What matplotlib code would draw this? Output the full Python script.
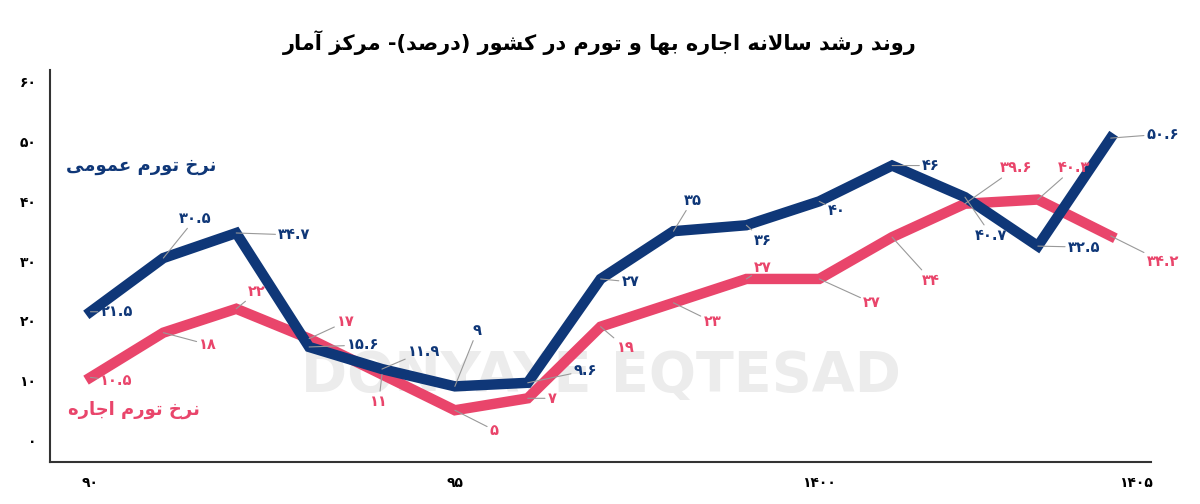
import matplotlib.pyplot as plt

years = list(range(1390, 1405))
general = [21.5, 30.5, 34.7, 15.6, 11.9, 9, 9.6, 27, 35, 36, 40, 46, 40.7, 32.5, 50.6]
rent = [10.5, 18, 22, 17, 11, 5, 7, 19, 23, 27, 27, 34, 39.6, 40.3, 34.2]
xticks = [1390, 1395, 1400, 1405]
xtick_labels = ["90", "95", "1400", "1405"]
yticks = [0, 10, 20, 30, 40, 50, 60]

title = "روند رشد سالانه اجاره بها و تورم در کشور (درصد)- مرکز آمار"
label_general = "نرخ تورم عمومی"
label_rent = "نرخ تورم اجاره"

# label offsets in pixels (dx, dy)
off_general = [(10, 0), (16, 40), (42, -2), (38, 2), (26, 18), (18, 56), (46, 12), (21, -3),
               (10, 31), (8, -15), (9, -9), (30, 0), (10, -38), (30, -1), (36, 4)]
off_rent = [(10, -3), (36, -12), (12, 17), (28, 17), (-12, -27), (35, -20), (20, 0), (16, -21),
            (30, -19), (8, 11), (44, -24), (30, -43), (35, 36), (20, 32), (36, -26)]

FORMS = {
    "ا": ("\uFE8D", "\uFE8E", None, None), "آ": ("\uFE81", "\uFE82", None, None),
    "ب": ("\uFE8F", "\uFE90", "\uFE91", "\uFE92"), "ت": ("\uFE95", "\uFE96", "\uFE97", "\uFE98"),
    "ج": ("\uFE9D", "\uFE9E", "\uFE9F", "\uFEA0"), "خ": ("\uFEA5", "\uFEA6", "\uFEA7", "\uFEA8"),
    "د": ("\uFEA9", "\uFEAA", None, None), "ر": ("\uFEAD", "\uFEAE", None, None),
    "ز": ("\uFEAF", "\uFEB0", None, None), "س": ("\uFEB1", "\uFEB2", "\uFEB3", "\uFEB4"),
    "ش": ("\uFEB5", "\uFEB6", "\uFEB7", "\uFEB8"), "ص": ("\uFEB9", "\uFEBA", "\uFEBB", "\uFEBC"),
    "ع": ("\uFEC9", "\uFECA", "\uFECB", "\uFECC"), "ک": ("\uFB8E", "\uFB8F", "\uFB90", "\uFB91"),
    "ل": ("\uFEDD", "\uFEDE", "\uFEDF", "\uFEE0"), "م": ("\uFEE1", "\uFEE2", "\uFEE3", "\uFEE4"),
    "ن": ("\uFEE5", "\uFEE6", "\uFEE7", "\uFEE8"), "ه": ("\uFEE9", "\uFEEA", "\uFEEB", "\uFEEC"),
    "و": ("\uFEED", "\uFEEE", None, None), "ی": ("\uFBFC", "\uFBFD", "\uFBFE", "\uFBFF"),
}


def shape(text):
    # minimal Persian shaping + visual reordering for matplotlib
    text = text.replace("لا", "\x01")
    chars = list(text)
    out = []
    for i, c in enumerate(chars):
        if c == "\x01":
            prev = chars[i - 1] if i > 0 else ""
            joins = prev in FORMS and FORMS[prev][2] is not None
            out.append("\uFEFC" if joins else "\uFEFB")
            continue
        if c not in FORMS:
            out.append(c)
            continue
        prev = chars[i - 1] if i > 0 else ""
        nxt = chars[i + 1] if i + 1 < len(chars) else ""
        jp = prev in FORMS and FORMS[prev][2] is not None
        jn = (nxt in FORMS or nxt == "\x01") and FORMS[c][2] is not None
        iso, fin, ini, med = FORMS[c]
        if jp and jn:
            out.append(med)
        elif jp:
            out.append(fin)
        elif jn:
            out.append(ini)
        else:
            out.append(iso)
    s = "".join(out)[::-1]
    return s.replace("(", "\x02").replace(")", "(").replace("\x02", ")")


def fa(num):
    return str(num).translate(str.maketrans("0123456789", "۰۱۲۳۴۵۶۷۸۹"))


blue = "#0f3778"
red = "#e9456b"

fig = plt.figure(figsize=(12, 5.04), dpi=100)
ax = fig.add_axes([0.042, 0.083, 0.917, 0.778])

ax.text(0.5, 0.22, "DONYAYE EQTESAD", transform=ax.transAxes, ha="center", va="center",
        fontsize=40, fontweight="bold", color="#ececec", zorder=0)

ax.plot(years, rent, color=red, lw=7.5, solid_joinstyle="miter", zorder=2)
ax.plot(years, general, color=blue, lw=7.5, solid_joinstyle="miter", zorder=3)

for series, offs, col in [(general, off_general, blue), (rent, off_rent, red)]:
    for x, v, (dx, dy) in zip(years, series, offs):
        ax.annotate(fa(v), (x, v), xytext=(dx, dy), textcoords="offset pixels",
                    ha="left", va="center", fontsize=10.5, fontweight="bold", color=col,
                    arrowprops=dict(arrowstyle="-", color="#999999", lw=0.8,
                                    shrinkA=0, shrinkB=0), zorder=5)

ax.text(1390.7, 46, shape(label_general), color=blue, fontsize=13, fontweight="bold",
        ha="center", va="center")
ax.text(1390.6, 5, shape(label_rent), color=red, fontsize=13, fontweight="bold",
        ha="center", va="center")

ax.set_xlim(1389.45, 1404.55)
ax.set_ylim(-3.7, 62)
ax.set_xticks(xticks[:-1])
ax.set_xticklabels([fa(t) for t in xtick_labels[:-1]], fontweight="bold", fontsize=10)
# last tick label sits at the axis end, as in the source
ax.text(xticks[-1] - 0.65, -6.0, fa(xtick_labels[-1]), ha="center", va="top", fontsize=10,
        fontweight="bold", clip_on=False)
ax.set_yticks(yticks)
ax.set_yticklabels([fa(t) for t in yticks], fontweight="bold", fontsize=10)
ax.tick_params(length=0, pad=10)
for s in ["top", "right"]:
    ax.spines[s].set_visible(False)
for s in ["left", "bottom"]:
    ax.spines[s].set_color("#333333")
    ax.spines[s].set_linewidth(1.5)

fig.suptitle(shape(title), fontsize=15, fontweight="bold", y=0.94)
fig.savefig("out.png")
